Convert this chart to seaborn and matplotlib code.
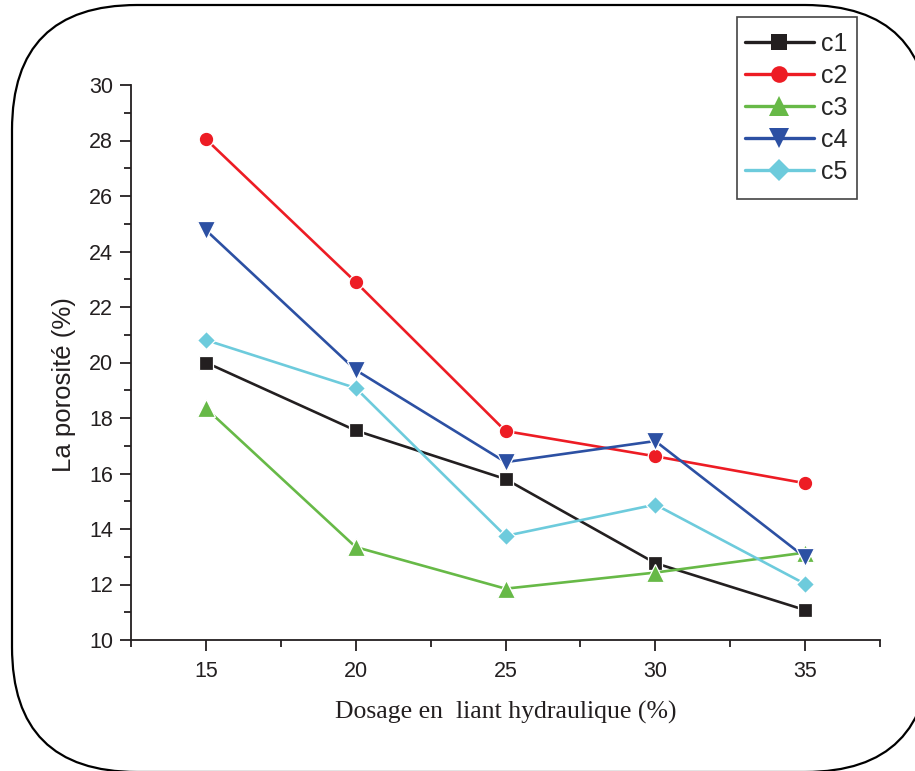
import numpy as np
import pandas as pd
import matplotlib
matplotlib.use("Agg")
import matplotlib.pyplot as plt
from matplotlib.patches import FancyBboxPatch, Rectangle
from matplotlib.ticker import MultipleLocator
import seaborn as sns

# Dosage en liant hydraulique (%)
dosage = [15, 20, 25, 30, 35]

# Porosité (%) for each mix
c1 = [20.0, 17.55, 15.8, 12.77, 11.08]
c2 = [28.05, 22.9, 17.53, 16.62, 15.65]
c3 = [18.35, 13.35, 11.85, 12.43, 13.15]
c4 = [24.77, 19.73, 16.41, 17.17, 12.98]
c5 = [20.81, 19.08, 13.75, 14.88, 12.02]

series_names = ["c1", "c2", "c3", "c4", "c5"]
series_values = [c1, c2, c3, c4, c5]
colors = ["#231f20", "#ed1c24", "#67b947", "#2c50a3", "#6dcbdc"]
marker_shapes = ["s", "o", "^", "v", "D"]
# triangles and diamonds read smaller than squares at equal size
marker_sizes = [9.5, 10.5, 12.5, 12.5, 9.5]

df = pd.DataFrame({
    "dosage": np.tile(dosage, len(series_names)),
    "porosite": np.concatenate(series_values),
    "serie": np.repeat(series_names, len(dosage)),
})

sns.set_theme(style="white")
plt.rcParams["font.family"] = ["Liberation Sans", "DejaVu Sans"]

W, H = 915, 771
fig = plt.figure(figsize=(W / 100, H / 100), dpi=100)

# Rounded frame around the whole figure, drawn in pixel coordinates
bg = fig.add_axes([0, 0, 1, 1], zorder=-1)
bg.set_xlim(0, W)
bg.set_ylim(H, 0)
bg.axis("off")
frame = FancyBboxPatch((12, 5), 918, 767,
                       boxstyle="round,pad=0,rounding_size=125",
                       facecolor="white", edgecolor="black", linewidth=1.6)
bg.add_patch(frame)
# legend box, tighter at the sides than at top and bottom
bg.add_patch(Rectangle((737, 17), 120, 182, facecolor="white",
                       edgecolor="#444444", linewidth=1.2))

ax = fig.add_axes([131 / W, 1 - 640 / H, (880 - 131) / W, (640 - 85) / H])
ax.patch.set_alpha(0)

sns.lineplot(data=df, x="dosage", y="porosite", hue="serie", style="serie",
             palette=colors, markers=marker_shapes, dashes=False,
             linewidth=1.9, markersize=10, markeredgecolor="white",
             markeredgewidth=0.9, ax=ax, legend=True)

for line, ms in zip(ax.lines[:len(series_names)], marker_sizes):
    line.set_markersize(ms)

handles, labels = ax.get_legend_handles_labels()
ax.get_legend().remove()

ax.set_xlim(12.5, 37.5)
ax.set_ylim(10, 30)
ax.xaxis.set_major_locator(MultipleLocator(5))
ax.xaxis.set_minor_locator(MultipleLocator(2.5))
ax.yaxis.set_major_locator(MultipleLocator(2))
ax.yaxis.set_minor_locator(MultipleLocator(1))

for side in ["top", "right"]:
    ax.spines[side].set_visible(False)
for side in ["left", "bottom"]:
    ax.spines[side].set_color("#231f20")
    ax.spines[side].set_linewidth(1.3)

ax.tick_params(which="major", direction="out", length=8, width=1.3,
               color="#231f20", labelsize=15.5, labelcolor="#231f20", pad=5,
               left=True, bottom=True)
ax.tick_params(which="minor", direction="out", length=5, width=1.3,
               color="#231f20", left=True, bottom=True)
ax.tick_params(axis="x", pad=7)

ax.set_xlabel("Dosage en  liant hydraulique (%)", fontsize=18.5,
              family=["Liberation Serif", "DejaVu Serif"], color="#231f20",
              labelpad=14)
ax.set_ylabel("La porosité (%)", fontsize=18.5, color="#231f20")
ax.yaxis.set_label_coords(-0.074, 0.46)

leg = fig.legend(handles, labels, loc="upper left",
                 bbox_to_anchor=(737.5 / W, 1 - 24.5 / H), frameon=False,
                 fontsize=18, handlelength=2.75, labelspacing=0.32,
                 handletextpad=0.3, borderpad=0.3, borderaxespad=0)
for h, ms in zip(leg.legend_handles, marker_sizes):
    h.set_linewidth(2.4)
    h.set_markersize(ms + 1.5)
    h.set_markeredgewidth(0)

fig.savefig("out.png", dpi=100)
